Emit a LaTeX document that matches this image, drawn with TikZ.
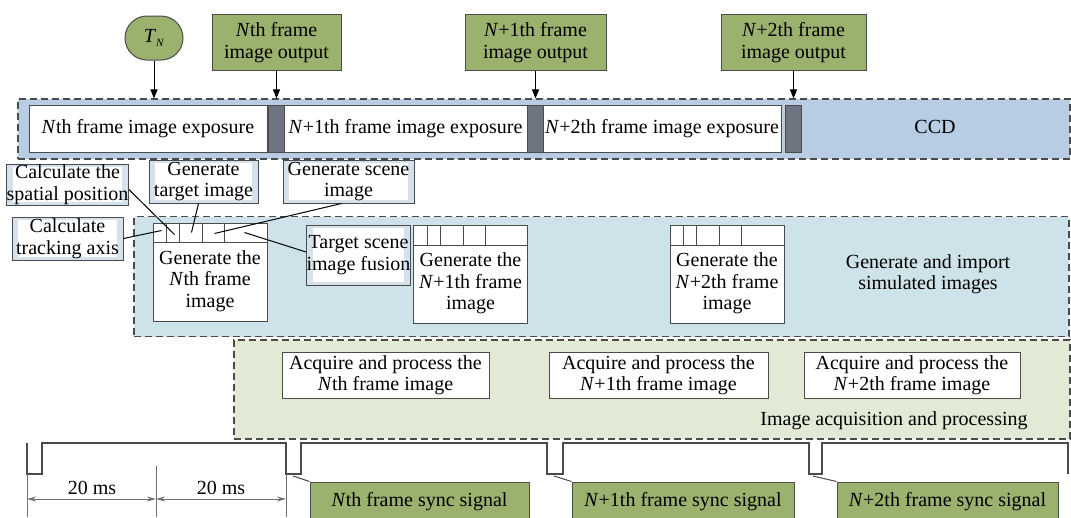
\documentclass[tikz,border=0pt]{standalone}
\usepackage{fontspec}
\setmainfont{Liberation Serif}
\usetikzlibrary{arrows.meta,shapes.misc}

\definecolor{oliveBox}{RGB}{155,177,110}
\definecolor{ccdBlue}{RGB}{184,204,228}
\definecolor{genTeal}{RGB}{205,227,233}
\definecolor{acqGreen}{RGB}{226,234,214}
\definecolor{barGray}{RGB}{110,117,128}
\definecolor{lineGray}{RGB}{75,75,75}
\definecolor{tagBlue}{RGB}{214,225,238}

\tikzset{
  regionbox/.style={draw=lineGray, line width=1.1pt, dash pattern=on 7pt off 4pt, inner sep=0pt},
  greenbox/.style={draw=lineGray, fill=oliveBox, line width=1pt, inner sep=0pt, align=center},
  whitebox/.style={draw=lineGray, fill=white, line width=1pt, inner sep=0pt, align=center},
  tagbox/.style={draw=lineGray, fill=tagBlue, line width=1pt, inner sep=0pt, align=center,
    path picture={\fill[white] ([xshift=6pt,yshift=3pt]path picture bounding box.south west)
      rectangle ([xshift=-6pt,yshift=-3pt]path picture bounding box.north east);}},
  barbox/.style={draw=lineGray, fill=barGray, line width=0.8pt, inner sep=0pt, minimum width=16, minimum height=47},
  outarrow/.style={-{Triangle[length=9pt,width=7pt]}, line width=1pt},
  leader/.style={line width=1pt},
  waveline/.style={draw=lineGray, line width=1.2pt},
  dimarrow/.style={{Stealth[length=9pt,width=5pt]}-{Stealth[length=9pt,width=5pt]}, draw=lineGray!80, line width=1pt},
}

% body of a "generate frame" box with its header cells
\newcommand{\genframe}[3]{%
  \node[whitebox, minimum width=114, minimum height=98] (#1) at (#2) {};
  \node[align=center] at ([yshift=-9pt]#1.center) {#3};
  \draw[line width=1pt, draw=lineGray] ([yshift=-20pt]#1.north west) -- ([yshift=-20pt]#1.north east);
  \foreach \dx in {14,27,50,72}
    \draw[line width=1pt, draw=lineGray] ([xshift=\dx pt]#1.north west) -- ([xshift=\dx pt,yshift=-20pt]#1.north west);
}

\begin{document}
\begin{tikzpicture}[x=1pt,y=-1pt,font=\fontsize{20}{21.5}\selectfont]
\useasboundingbox (0,0) rectangle (1071,517);

% CCD row
\node[regionbox, fill=ccdBlue, minimum width=1052, minimum height=60] (ccd) at (544,129) {};
\node[whitebox, minimum width=238, minimum height=47] (exp1) at (148,128.5) {\textit{N}th frame image exposure};
\node[barbox] (bar1) at (276,128.5) {};
\node[whitebox, minimum width=243, minimum height=47] (exp2) at (405.5,128.5) {\textit{N}+1th frame image exposure};
\node[barbox] (bar2) at (535,128.5) {};
\node[whitebox, minimum width=238, minimum height=47] (exp3) at (662,128.5) {\textit{N}+2th frame image exposure};
\node[barbox] (bar3) at (793,128.5) {};
\node (ccdlbl) at (935,127) {CCD};

% outputs
\node[greenbox, rounded rectangle, minimum width=58, minimum height=44] (tn) at (154,38) {\textit{T}\raisebox{-4pt}{\fontsize{11}{11}\selectfont\textit{N}}};
\node[greenbox, minimum width=129, minimum height=56] (out1) at (276.5,42.5) {\textit{N}th frame\\image output};
\node[greenbox, minimum width=141, minimum height=56] (out2) at (535.5,42.5) {\textit{N}+1th frame\\image output};
\node[greenbox, minimum width=145, minimum height=56] (out3) at (793.5,42.5) {\textit{N}+2th frame\\image output};
\draw[outarrow] (tn.south) -- (tn.south |- ccd.north);
\draw[outarrow] (out1.south) -- (out1.south |- ccd.north);
\draw[outarrow] (out2.south) -- (out2.south |- ccd.north);
\draw[outarrow] (out3.south) -- (out3.south |- ccd.north);

% simulated images
\node[regionbox, fill=genTeal, minimum width=935, minimum height=120] (gen) at (601.5,276.5) {};
\genframe{gen1}{210,272}{Generate the\\\textit{N}th frame\\image}
\genframe{gen2}{470.5,274.5}{Generate the\\\textit{N}+1th frame\\image}
\genframe{gen3}{727,274.5}{Generate the\\\textit{N}+2th frame\\image}
\node[align=center] (genlbl) at (928,274) {Generate and import\\simulated images};

\node[tagbox, minimum width=111, minimum height=41] (tagPos) at (67.5,184.5) {Calculate the\\spatial position};
\node[tagbox, minimum width=109, minimum height=43] (tagTgt) at (203.5,181.5) {Generate\\target image};
\node[tagbox, minimum width=131, minimum height=43] (tagScn) at (348.5,181.5) {Generate scene\\image};
\node[tagbox, minimum width=111, minimum height=43] (tagAxis) at (67.5,238.5) {Calculate\\tracking axis};
\node[tagbox, minimum width=101, minimum height=60] (tagFus) at (358.5,255) {Target scene\\image fusion};

\coordinate (cell1) at ([xshift=9pt,yshift=-8pt]gen1.north west);
\coordinate (cell2) at ([xshift=22pt,yshift=-12pt]gen1.north west);
\coordinate (cell3) at ([xshift=39pt,yshift=-10pt]gen1.north west);
\coordinate (cell4) at ([xshift=62pt,yshift=-11pt]gen1.north west);
\coordinate (cell5) at ([xshift=92pt,yshift=-10pt]gen1.north west);
\draw[leader] (tagAxis.east) -- (cell1);
\draw[leader] ([yshift=-5pt]tagPos.east) -- (cell2);
\draw[leader] ([xshift=-5pt]tagTgt.south) -- (cell3);
\draw[leader] ([xshift=-7pt]tagScn.south) -- (cell4);
\draw[leader] ([yshift=3pt]tagFus.west) -- (cell5);

% acquisition and processing
\node[regionbox, fill=acqGreen, minimum width=836, minimum height=99] (acq) at (652,389.5) {};
\node[whitebox, minimum width=207, minimum height=46] (acq1) at (385.5,375) {Acquire and process the\\\textit{N}th frame image};
\node[whitebox, minimum width=219, minimum height=46] (acq2) at (658.5,375) {Acquire and process the\\\textit{N}+1th frame image};
\node[whitebox, minimum width=216, minimum height=46] (acq3) at (912,375) {Acquire and process the\\\textit{N}+2th frame image};
\node (acqlbl) at (894,421) {Image acquisition and processing};

% sync signal
\draw[waveline] (27,443) -- (27,474) -- (42,474) -- (42,443) -- (286,443) -- (286,474) -- (301,474) -- (301,443)
  -- (547,443) -- (547,474) -- (563,474) -- (563,443) -- (809,443) -- (809,474) -- (822,474) -- (822,443)
  -- (1068,443) -- (1068,474);
\draw[draw=lineGray!80, line width=1pt] (27,474) -- (27,517);
\draw[draw=lineGray!80, line width=1pt] (156,466) -- (156,517);
\draw[draw=lineGray!80, line width=1pt] (286,474) -- (286,517);
\draw[dimarrow] (27,499) -- (156,499);
\draw[dimarrow] (156,499) -- (286,499);
\node (ms1) at (92,488) {20 ms};
\node (ms2) at (221,488) {20 ms};

\coordinate (low1) at (293,476);
\coordinate (low2) at (554,476);
\coordinate (low3) at (813,476);
\node[greenbox, minimum width=219, minimum height=40] (sync1) at (419.5,502) {\textit{N}th frame sync signal};
\node[greenbox, minimum width=222, minimum height=40] (sync2) at (683,502) {\textit{N}+1th frame sync signal};
\node[greenbox, minimum width=221, minimum height=40] (sync3) at (947.5,502) {\textit{N}+2th frame sync signal};
\draw[leader, draw=lineGray] (low1) -- (sync1.north west);
\draw[leader, draw=lineGray] (low2) -- (sync2.north west);
\draw[leader, draw=lineGray] (low3) -- (sync3.north west);
\end{tikzpicture}
\end{document}
